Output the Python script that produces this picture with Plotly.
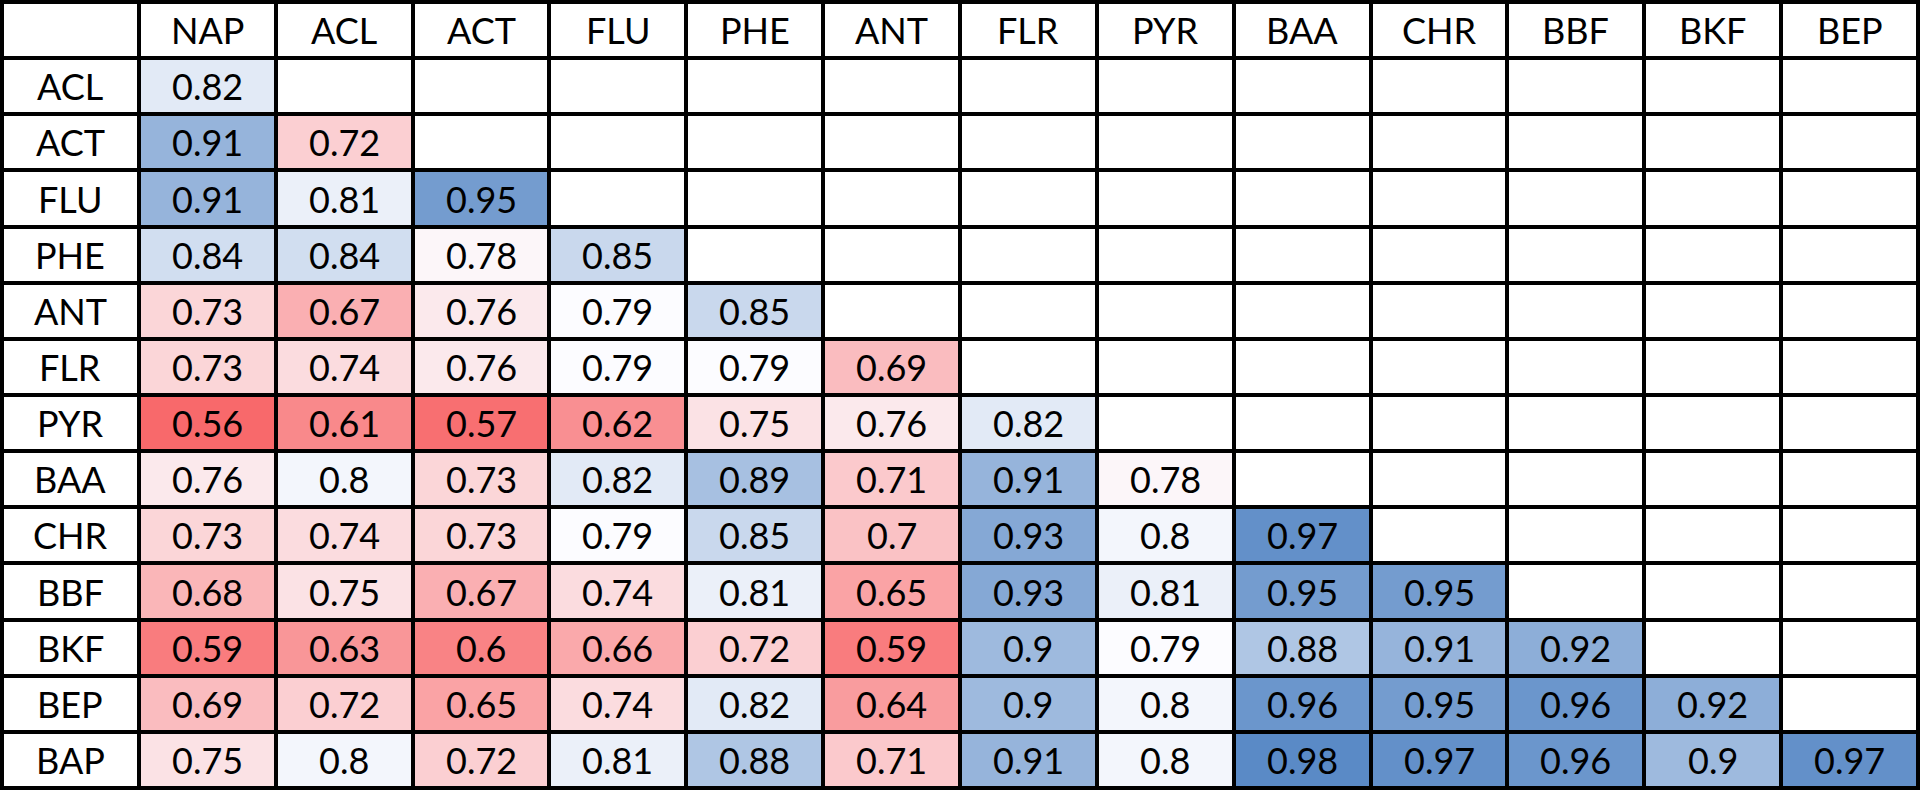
import plotly.graph_objects as go
import numpy as np

cols = ["NAP", "ACL", "ACT", "FLU", "PHE", "ANT", "FLR", "PYR", "BAA", "CHR", "BBF", "BKF", "BEP"]
rows = ["ACL", "ACT", "FLU", "PHE", "ANT", "FLR", "PYR", "BAA", "CHR", "BBF", "BKF", "BEP", "BAP"]

r_acl = [0.82]
r_act = [0.91, 0.72]
r_flu = [0.91, 0.81, 0.95]
r_phe = [0.84, 0.84, 0.78, 0.85]
r_ant = [0.73, 0.67, 0.76, 0.79, 0.85]
r_flr = [0.73, 0.74, 0.76, 0.79, 0.79, 0.69]
r_pyr = [0.56, 0.61, 0.57, 0.62, 0.75, 0.76, 0.82]
r_baa = [0.76, 0.8, 0.73, 0.82, 0.89, 0.71, 0.91, 0.78]
r_chr = [0.73, 0.74, 0.73, 0.79, 0.85, 0.7, 0.93, 0.8, 0.97]
r_bbf = [0.68, 0.75, 0.67, 0.74, 0.81, 0.65, 0.93, 0.81, 0.95, 0.95]
r_bkf = [0.59, 0.63, 0.6, 0.66, 0.72, 0.59, 0.9, 0.79, 0.88, 0.91, 0.92]
r_bep = [0.69, 0.72, 0.65, 0.74, 0.82, 0.64, 0.9, 0.8, 0.96, 0.95, 0.96, 0.92]
r_bap = [0.75, 0.8, 0.72, 0.81, 0.88, 0.71, 0.91, 0.8, 0.98, 0.97, 0.96, 0.9, 0.97]
values = [r_acl, r_act, r_flu, r_phe, r_ant, r_flr, r_pyr, r_baa, r_chr, r_bbf, r_bkf, r_bep, r_bap]

n = len(cols) + 1
xs = list(range(n))
ys = list(range(n))

base_z = [[0] * n for _ in range(n)]
z = [[None] * n for _ in range(n)]
for i, rv in enumerate(values):
    for j, v in enumerate(rv):
        z[i + 1][j + 1] = v

vals_flat = [v for rv in values for v in rv]
zmin, zmax = min(vals_flat), max(vals_flat)
zmid = float(np.median(vals_flat))
mid = (zmid - zmin) / (zmax - zmin)
cscale = [[0, "#F8696B"], [mid, "#FCFCFF"], [1, "#5A8AC6"]]

font = dict(family="Lato, Open Sans, sans-serif", size=36, color="black")

fig = go.Figure()
fig.add_trace(go.Heatmap(
    x=xs, y=ys, z=base_z, colorscale=[[0, "white"], [1, "white"]],
    showscale=False, xgap=4, ygap=4, hoverinfo="skip",
))
fig.add_trace(go.Heatmap(
    x=xs, y=ys, z=z, colorscale=cscale, zmin=zmin, zmax=zmax,
    showscale=False, xgap=4, ygap=4, hoverinfo="skip",
))

annots = []
for j, c in enumerate(cols):
    annots.append(dict(x=j + 1, y=0, text=c))
for i, r in enumerate(rows):
    annots.append(dict(x=0, y=i + 1, text=r))
for i, rv in enumerate(values):
    for j, v in enumerate(rv):
        annots.append(dict(x=j + 1, y=i + 1, text=f"{v:g}"))
for a in annots:
    a.update(xref="x", yref="y", showarrow=False, font=font,
             xanchor="center", yanchor="middle")

fig.update_xaxes(visible=False, range=[-0.5, n - 0.5], showgrid=False, zeroline=False)
fig.update_yaxes(visible=False, range=[n - 0.5, -0.5], showgrid=False, zeroline=False)
fig.update_layout(
    width=1920, height=790,
    margin=dict(l=2, r=2, t=2, b=2),
    plot_bgcolor="black", paper_bgcolor="black",
    annotations=annots,
)
fig.write_html(
    "out.html",
    config={"displayModeBar": False},
    post_script="document.body.style.margin='0';document.body.style.overflow='hidden';",
)
